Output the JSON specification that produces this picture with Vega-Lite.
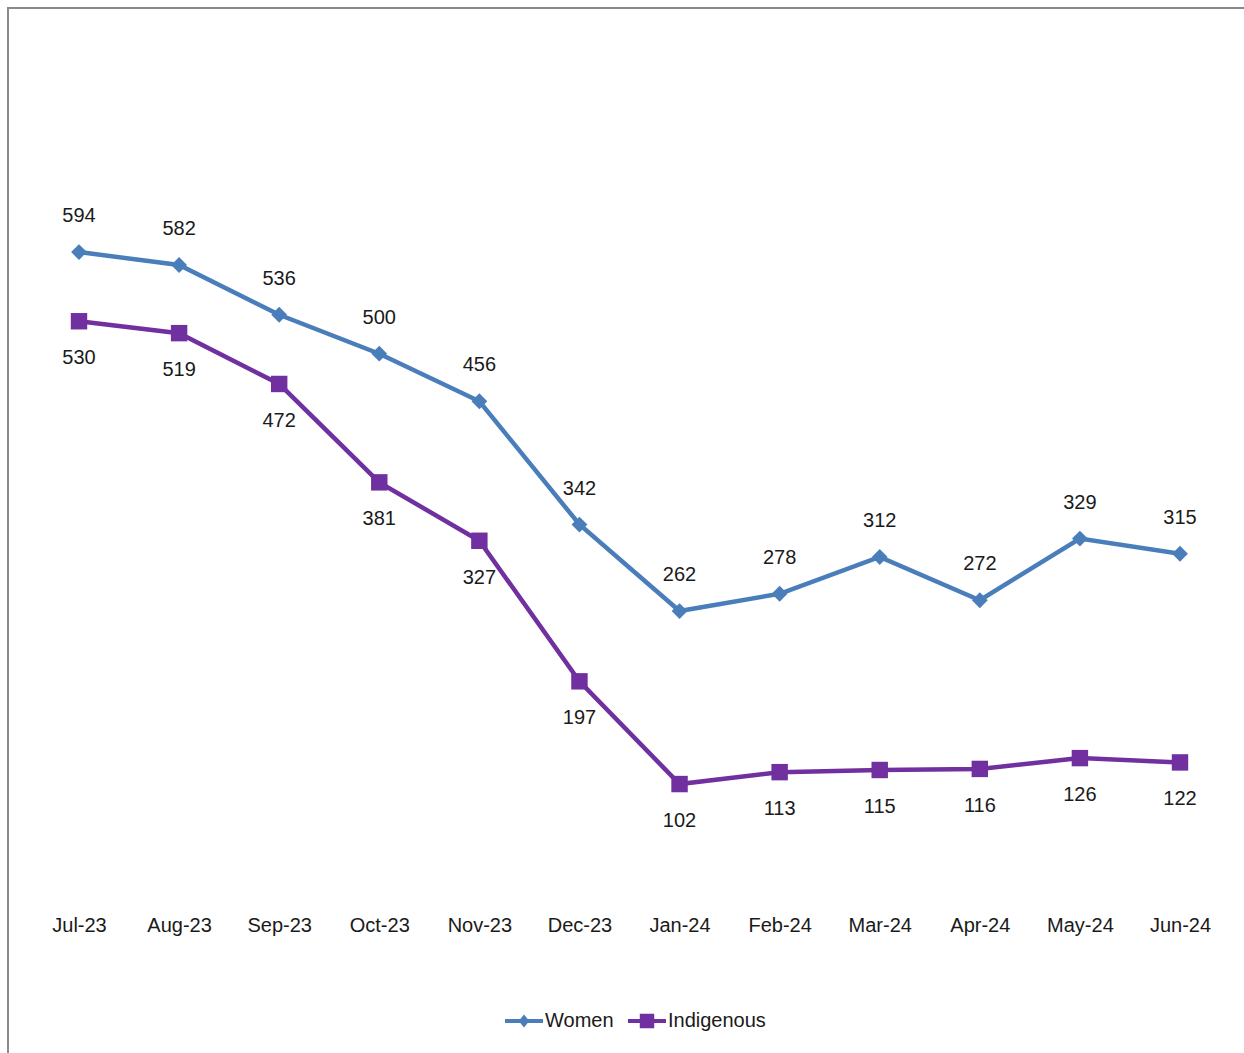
{
  "$schema": "https://vega.github.io/schema/vega-lite/v6.json",
  "width": 1239,
  "height": 1048,
  "autosize": {"type": "none"},
  "padding": {"left": 8, "top": 8, "right": -3, "bottom": -3},
  "background": "white",
  "config": {
    "view": {"stroke": "#8a8a8a", "strokeWidth": 2},
    "font": "Liberation Sans, Arial, sans-serif"
  },
  "data": {
    "values": [
      {"month": "Jul-23", "series": "Women", "value": 594},
      {"month": "Aug-23", "series": "Women", "value": 582},
      {"month": "Sep-23", "series": "Women", "value": 536},
      {"month": "Oct-23", "series": "Women", "value": 500},
      {"month": "Nov-23", "series": "Women", "value": 456},
      {"month": "Dec-23", "series": "Women", "value": 342},
      {"month": "Jan-24", "series": "Women", "value": 262},
      {"month": "Feb-24", "series": "Women", "value": 278},
      {"month": "Mar-24", "series": "Women", "value": 312},
      {"month": "Apr-24", "series": "Women", "value": 272},
      {"month": "May-24", "series": "Women", "value": 329},
      {"month": "Jun-24", "series": "Women", "value": 315},
      {"month": "Jul-23", "series": "Indigenous", "value": 530},
      {"month": "Aug-23", "series": "Indigenous", "value": 519},
      {"month": "Sep-23", "series": "Indigenous", "value": 472},
      {"month": "Oct-23", "series": "Indigenous", "value": 381},
      {"month": "Nov-23", "series": "Indigenous", "value": 327},
      {"month": "Dec-23", "series": "Indigenous", "value": 197},
      {"month": "Jan-24", "series": "Indigenous", "value": 102},
      {"month": "Feb-24", "series": "Indigenous", "value": 113},
      {"month": "Mar-24", "series": "Indigenous", "value": 115},
      {"month": "Apr-24", "series": "Indigenous", "value": 116},
      {"month": "May-24", "series": "Indigenous", "value": 126},
      {"month": "Jun-24", "series": "Indigenous", "value": 122}
    ]
  },
  "encoding": {
    "x": {
      "field": "month",
      "type": "ordinal",
      "sort": null,
      "scale": {"type": "point", "padding": 0.6894, "align": 0.5145},
      "axis": {
        "title": null,
        "domain": false,
        "ticks": false,
        "grid": false,
        "offset": -151,
        "labelPadding": 10,
        "labelAngle": 0,
        "labelFontSize": 20,
        "labelColor": "#1a1a1a",
        "labelFont": "Liberation Sans, Arial, sans-serif"
      }
    },
    "y": {
      "field": "value",
      "type": "quantitative",
      "scale": {"domain": [-149.5, 819.7], "nice": false, "zero": false},
      "axis": null
    }
  },
  "layer": [
    {
      "transform": [{"filter": "false"}],
      "mark": {"type": "point", "filled": true, "opacity": 1, "size": 1444},
      "encoding": {
        "color": {
          "field": "series",
          "type": "nominal",
          "scale": {"domain": ["Women", "Indigenous"], "range": ["#4A7EBB", "#7030A0"]},
          "legend": {
            "orient": "none",
            "legendX": 497,
            "legendY": 994,
            "direction": "horizontal",
            "title": null,
            "padding": 0,
            "symbolSize": 1444,
            "symbolStrokeWidth": 0,
            "symbolOpacity": 1,
            "labelFontSize": 20,
            "labelColor": "#1a1a1a",
            "labelOffset": 2,
            "columnPadding": 14,
            "labelFont": "Liberation Sans, Arial, sans-serif"
          }
        },
        "shape": {
          "field": "series",
          "type": "nominal",
          "scale": {
            "domain": ["Women", "Indigenous"],
            "range": [
              "M-1,-0.11H1V0.11H-1Z M0,-0.34L0.28,0L0,0.34L-0.28,0Z",
              "M-1,-0.11H1V0.11H-1Z M-0.38,-0.38H0.38V0.38H-0.38Z"
            ]
          },
          "legend": {
            "orient": "none",
            "legendX": 497,
            "legendY": 994,
            "direction": "horizontal",
            "title": null,
            "padding": 0,
            "symbolSize": 1444,
            "symbolStrokeWidth": 0,
            "labelFontSize": 20,
            "labelColor": "#1a1a1a",
            "labelOffset": 2,
            "columnPadding": 14
          }
        }
      }
    },
    {
      "transform": [{"filter": "datum.series === 'Women'"}],
      "mark": {"type": "line", "strokeWidth": 4.5, "stroke": "#4A7EBB"},
      "encoding": {}
    },
    {
      "transform": [{"filter": "datum.series === 'Indigenous'"}],
      "mark": {"type": "line", "strokeWidth": 4.5, "stroke": "#7030A0"},
      "encoding": {}
    },
    {
      "transform": [{"filter": "datum.series === 'Women'"}],
      "mark": {"type": "point", "shape": "diamond", "filled": true, "opacity": 1, "size": 250, "fill": "#4A7EBB"},
      "encoding": {}
    },
    {
      "transform": [{"filter": "datum.series === 'Indigenous'"}],
      "mark": {"type": "point", "shape": "square", "filled": true, "opacity": 1, "size": 270, "fill": "#7030A0"},
      "encoding": {}
    },
    {
      "transform": [{"filter": "datum.series === 'Women'"}],
      "mark": {"type": "text", "dy": -36, "baseline": "middle", "align": "center", "fontSize": 20, "fill": "#1a1a1a"},
      "encoding": {"text": {"field": "value", "type": "quantitative"}}
    },
    {
      "transform": [{"filter": "datum.series === 'Indigenous'"}],
      "mark": {"type": "text", "dy": 37, "baseline": "middle", "align": "center", "fontSize": 20, "fill": "#1a1a1a"},
      "encoding": {"text": {"field": "value", "type": "quantitative"}}
    }
  ]
}
